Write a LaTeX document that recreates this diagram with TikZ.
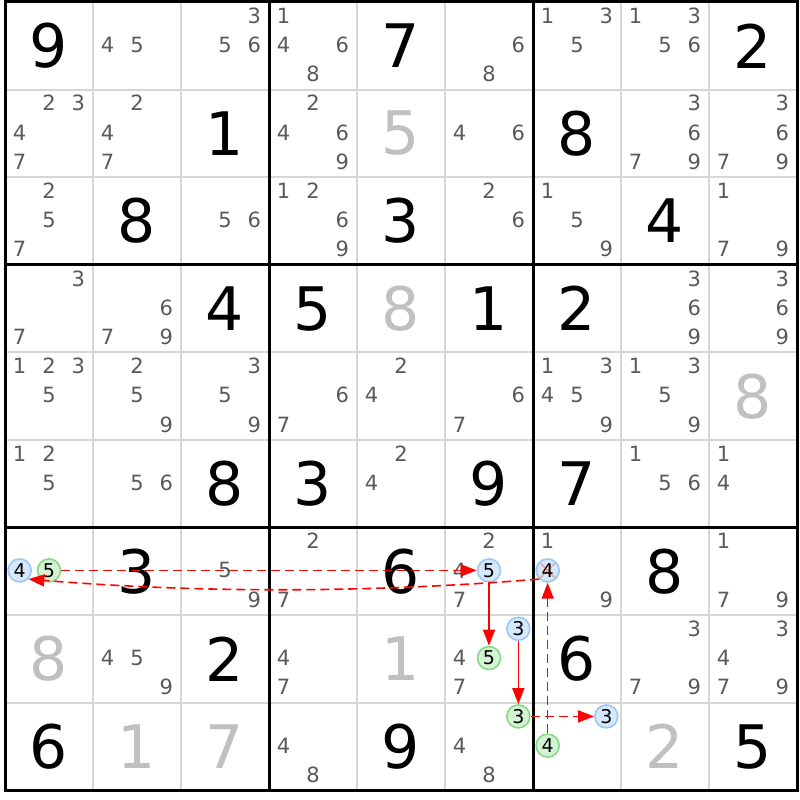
\documentclass[tikz,border=0pt]{standalone}
\usepackage{fontspec}
\setmainfont{DejaVu Sans}
\usetikzlibrary{arrows.meta}
\definecolor{candgray}{HTML}{5A5A5A}
\definecolor{solvedgray}{HTML}{C0C0C0}
\definecolor{thingray}{HTML}{D6D6D6}
\definecolor{bluefl}{HTML}{D6E8FB}
\definecolor{bluebd}{HTML}{9CC8F4}
\definecolor{greenfl}{HTML}{D4F2D4}
\definecolor{greenbd}{HTML}{88D888}
\definecolor{xred}{HTML}{F4A0A0}
\tikzset{
  cand/.style={text=candgray,font=\fontsize{21}{21}\selectfont,inner sep=0pt},
  given/.style={text=black,font=\fontsize{60}{60}\selectfont,inner sep=0pt},
  solved/.style={text=solvedgray,font=\fontsize{60}{60}\selectfont,inner sep=0pt},
  bluec/.style={circle,draw=bluebd,fill=bluefl,line width=1.6pt,minimum size=23pt,inner sep=0pt,font=\fontsize{19}{19}\selectfont},
  greenc/.style={circle,draw=greenbd,fill=greenfl,line width=1.6pt,minimum size=23pt,inner sep=0pt,font=\fontsize{19}{19}\selectfont},
  crossed/.style={path picture={\draw[xred,line width=1.5pt]
      (path picture bounding box.north west) -- (path picture bounding box.south east)
      (path picture bounding box.north east) -- (path picture bounding box.south west);}},
  strong/.style={red,line width=1.6pt,-{Triangle[length=16pt,width=12pt]}},
  weak/.style={strong,dash pattern=on 9pt off 5pt},
  thinline/.style={thingray,line width=2pt},
  thickline/.style={black,line width=3pt},
}
% r c list
\newcommand{\cands}[3]{%
  \foreach \k in {#3}{%
    \pgfmathsetmacro\px{5+(#2-1)*88+(mod(\k-1,3)+0.5)*88/3}%
    \pgfmathsetmacro\py{2+(#1-1)*87.6+(floor((\k-1)/3)+0.5)*29.2-1}%
    \node[cand] (k#1#2\k) at (\px,\py) {\k};
  }}
% r c k style
\newcommand{\ccand}[4]{%
  \pgfmathsetmacro\px{5+(#2-1)*88+(mod(#3-1,3)+0.5)*88/3}%
  \pgfmathsetmacro\py{2+(#1-1)*87.6+(floor((#3-1)/3)+0.5)*29.2-1}%
  \node[#4] (k#1#2#3) at (\px,\py) {#3};}
% r c d style
\newcommand{\bigd}[4]{%
  \pgfmathsetmacro\px{5+(#2-0.5)*88}%
  \pgfmathsetmacro\py{2+(#1-0.5)*87.6}%
  \node[#4] (d#1#2) at (\px,\py) {#3};}
\begin{document}
\begin{tikzpicture}[x=1pt,y=-1pt]
\useasboundingbox (0,0) rectangle (800,800);
\fill[white] (0,0) rectangle (800,800);
% thin grid
\foreach \i in {1,2,4,5,7,8}{
  \draw[thinline] (5+\i*88,2) -- (5+\i*88,790.4);
  \draw[thinline] (5,2+\i*87.6) -- (797,2+\i*87.6);
}
\foreach \i in {0,3,6,9}{
  \draw[thickline] (5+\i*88,0.5) -- (5+\i*88,791.9);
  \draw[thickline] (3.5,2+\i*87.6) -- (798.5,2+\i*87.6);
}
% row 1
\bigd{1}{1}{9}{given}
\cands{1}{2}{4,5}
\cands{1}{3}{3,5,6}
\cands{1}{4}{1,4,6,8}
\bigd{1}{5}{7}{given}
\cands{1}{6}{6,8}
\cands{1}{7}{1,3,5}
\cands{1}{8}{1,3,5,6}
\bigd{1}{9}{2}{given}
% row 2
\cands{2}{1}{2,3,4,7}
\cands{2}{2}{2,4,7}
\bigd{2}{3}{1}{given}
\cands{2}{4}{2,4,6,9}
\bigd{2}{5}{5}{solved}
\cands{2}{6}{4,6}
\bigd{2}{7}{8}{given}
\cands{2}{8}{3,6,7,9}
\cands{2}{9}{3,6,7,9}
% row 3
\cands{3}{1}{2,5,7}
\bigd{3}{2}{8}{given}
\cands{3}{3}{5,6}
\cands{3}{4}{1,2,6,9}
\bigd{3}{5}{3}{given}
\cands{3}{6}{2,6}
\cands{3}{7}{1,5,9}
\bigd{3}{8}{4}{given}
\cands{3}{9}{1,7,9}
% row 4
\cands{4}{1}{3,7}
\cands{4}{2}{6,7,9}
\bigd{4}{3}{4}{given}
\bigd{4}{4}{5}{given}
\bigd{4}{5}{8}{solved}
\bigd{4}{6}{1}{given}
\bigd{4}{7}{2}{given}
\cands{4}{8}{3,6,9}
\cands{4}{9}{3,6,9}
% row 5
\cands{5}{1}{1,2,3,5}
\cands{5}{2}{2,5,9}
\cands{5}{3}{3,5,9}
\cands{5}{4}{6,7}
\cands{5}{5}{2,4}
\cands{5}{6}{6,7}
\cands{5}{7}{1,3,4,5,9}
\cands{5}{8}{1,3,5,9}
\bigd{5}{9}{8}{solved}
% row 6
\cands{6}{1}{1,2,5}
\cands{6}{2}{5,6}
\bigd{6}{3}{8}{given}
\bigd{6}{4}{3}{given}
\cands{6}{5}{2,4}
\bigd{6}{6}{9}{given}
\bigd{6}{7}{7}{given}
\cands{6}{8}{1,5,6}
\cands{6}{9}{1,4}
% row 7
\ccand{7}{1}{4}{bluec}
\ccand{7}{1}{5}{greenc}
\bigd{7}{2}{3}{given}
\cands{7}{3}{5,9}
\cands{7}{4}{2,7}
\bigd{7}{5}{6}{given}
\cands{7}{6}{2,4,7}
\ccand{7}{6}{5}{bluec}
\cands{7}{7}{1,9}
\ccand{7}{7}{4}{bluec,crossed}
\bigd{7}{8}{8}{given}
\cands{7}{9}{1,7,9}
% row 8
\bigd{8}{1}{8}{solved}
\cands{8}{2}{4,5,9}
\bigd{8}{3}{2}{given}
\cands{8}{4}{4,7}
\bigd{8}{5}{1}{solved}
\cands{8}{6}{4,7}
\ccand{8}{6}{3}{bluec}
\ccand{8}{6}{5}{greenc}
\bigd{8}{7}{6}{given}
\cands{8}{8}{3,7,9}
\cands{8}{9}{3,4,7,9}
% row 9
\bigd{9}{1}{6}{given}
\bigd{9}{2}{1}{solved}
\bigd{9}{3}{7}{solved}
\cands{9}{4}{4,8}
\bigd{9}{5}{9}{given}
\cands{9}{6}{4,8}
\ccand{9}{6}{3}{greenc}
\ccand{9}{7}{3}{bluec}
\ccand{9}{7}{4}{greenc}
\bigd{9}{8}{2}{solved}
\bigd{9}{9}{5}{given}
% chain
\draw[weak] (k715) -- (k765);
\draw[strong] (k765) -- (k865);
\draw[strong] (k863) -- (k963);
\draw[weak] (k963) -- (k973);
\draw[weak] (k974) -- (k774);
\draw[weak] (k774.south west) .. controls +(-170,14) and +(170,14) .. (k714.south east);
\end{tikzpicture}
\end{document}
